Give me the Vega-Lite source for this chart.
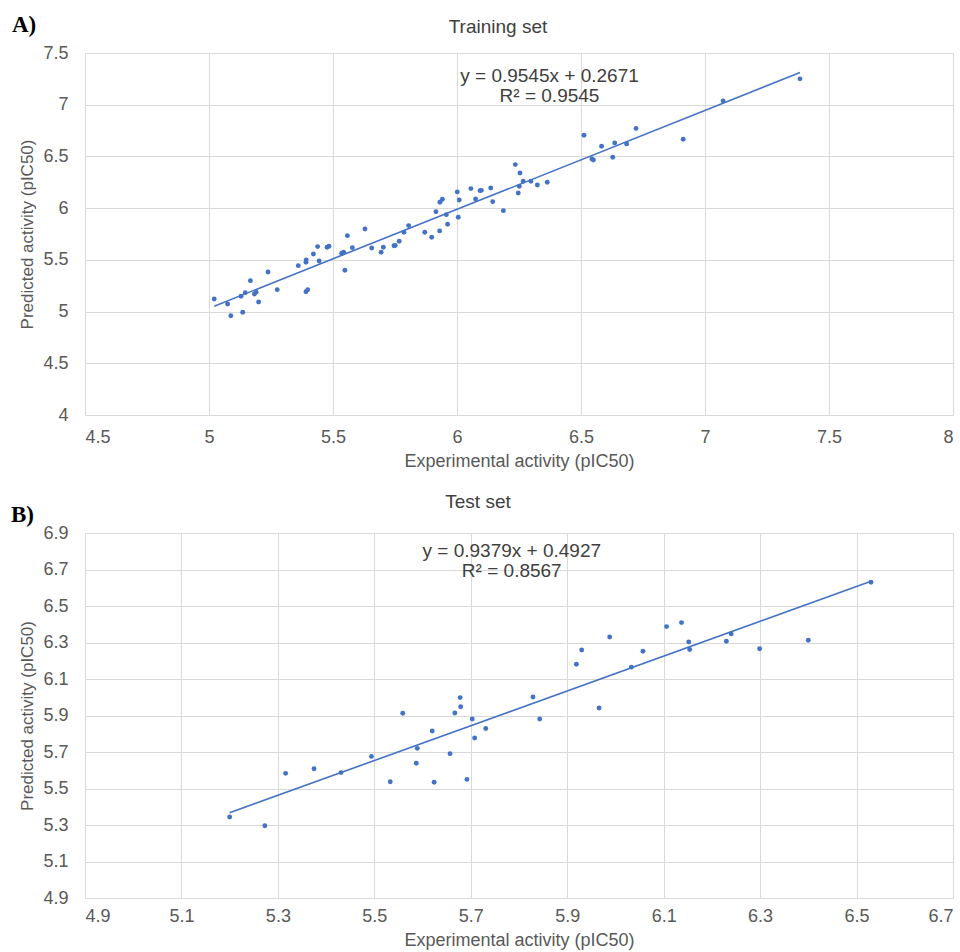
{
  "$schema": "https://vega.github.io/schema/vega-lite/v6.json",
  "background": "white",
  "padding": {"top": 14, "left": 11, "right": 4, "bottom": 1},
  "spacing": 23,
  "config": {
    "font": "Liberation Sans",
    "view": {"stroke": null},
    "axis": {
      "grid": true, "gridColor": "#d9d9d9", "gridWidth": 1,
      "domain": false, "ticks": false, "tickSize": 0,
      "labelFont": "Liberation Sans", "labelFontSize": 18, "labelColor": "#595959",
      "titleFont": "Liberation Sans", "titleFontSize": 18, "titleColor": "#595959", "titleFontWeight": "normal"
    },
    "title": {"font": "Liberation Sans", "fontSize": 19, "fontWeight": "normal", "color": "#404040"}
  },
  "datasets": {
    "train": [
      {"experimental": 5.021, "predicted": 5.122}, {"experimental": 5.075, "predicted": 5.073},
      {"experimental": 5.088, "predicted": 4.960}, {"experimental": 5.136, "predicted": 4.993},
      {"experimental": 5.129, "predicted": 5.148}, {"experimental": 5.146, "predicted": 5.183},
      {"experimental": 5.167, "predicted": 5.299}, {"experimental": 5.183, "predicted": 5.170},
      {"experimental": 5.190, "predicted": 5.187}, {"experimental": 5.200, "predicted": 5.093},
      {"experimental": 5.238, "predicted": 5.383}, {"experimental": 5.275, "predicted": 5.212},
      {"experimental": 5.360, "predicted": 5.444}, {"experimental": 5.391, "predicted": 5.477},
      {"experimental": 5.392, "predicted": 5.499}, {"experimental": 5.391, "predicted": 5.192},
      {"experimental": 5.398, "predicted": 5.212}, {"experimental": 5.421, "predicted": 5.557},
      {"experimental": 5.438, "predicted": 5.628}, {"experimental": 5.444, "predicted": 5.489},
      {"experimental": 5.476, "predicted": 5.622}, {"experimental": 5.484, "predicted": 5.632},
      {"experimental": 5.535, "predicted": 5.564}, {"experimental": 5.543, "predicted": 5.574},
      {"experimental": 5.548, "predicted": 5.399}, {"experimental": 5.558, "predicted": 5.734},
      {"experimental": 5.578, "predicted": 5.618}, {"experimental": 5.629, "predicted": 5.799},
      {"experimental": 5.656, "predicted": 5.615}, {"experimental": 5.694, "predicted": 5.574},
      {"experimental": 5.703, "predicted": 5.622}, {"experimental": 5.746, "predicted": 5.637},
      {"experimental": 5.751, "predicted": 5.640}, {"experimental": 5.767, "predicted": 5.680},
      {"experimental": 5.786, "predicted": 5.767}, {"experimental": 5.805, "predicted": 5.831},
      {"experimental": 5.870, "predicted": 5.767}, {"experimental": 5.898, "predicted": 5.719},
      {"experimental": 5.915, "predicted": 5.966}, {"experimental": 5.930, "predicted": 5.780},
      {"experimental": 5.931, "predicted": 6.057}, {"experimental": 5.941, "predicted": 6.086},
      {"experimental": 5.957, "predicted": 5.937}, {"experimental": 5.962, "predicted": 5.844},
      {"experimental": 6.001, "predicted": 6.157}, {"experimental": 6.009, "predicted": 6.079},
      {"experimental": 6.005, "predicted": 5.912}, {"experimental": 6.056, "predicted": 6.189},
      {"experimental": 6.075, "predicted": 6.089}, {"experimental": 6.093, "predicted": 6.169},
      {"experimental": 6.098, "predicted": 6.172}, {"experimental": 6.136, "predicted": 6.195},
      {"experimental": 6.144, "predicted": 6.063}, {"experimental": 6.187, "predicted": 5.976},
      {"experimental": 6.235, "predicted": 6.421}, {"experimental": 6.254, "predicted": 6.340},
      {"experimental": 6.267, "predicted": 6.260}, {"experimental": 6.251, "predicted": 6.212},
      {"experimental": 6.247, "predicted": 6.147}, {"experimental": 6.298, "predicted": 6.260},
      {"experimental": 6.324, "predicted": 6.224}, {"experimental": 6.364, "predicted": 6.250},
      {"experimental": 6.512, "predicted": 6.705}, {"experimental": 6.544, "predicted": 6.476},
      {"experimental": 6.550, "predicted": 6.466}, {"experimental": 6.583, "predicted": 6.599},
      {"experimental": 6.628, "predicted": 6.492}, {"experimental": 6.636, "predicted": 6.631},
      {"experimental": 6.684, "predicted": 6.621}, {"experimental": 6.722, "predicted": 6.771},
      {"experimental": 6.912, "predicted": 6.666}, {"experimental": 7.073, "predicted": 7.037},
      {"experimental": 7.383, "predicted": 7.250}
    ],
    "test": [
      {"experimental": 5.200, "predicted": 5.344}, {"experimental": 5.273, "predicted": 5.296},
      {"experimental": 5.316, "predicted": 5.583}, {"experimental": 5.375, "predicted": 5.608},
      {"experimental": 5.431, "predicted": 5.587}, {"experimental": 5.494, "predicted": 5.676},
      {"experimental": 5.533, "predicted": 5.537}, {"experimental": 5.559, "predicted": 5.912},
      {"experimental": 5.587, "predicted": 5.638}, {"experimental": 5.589, "predicted": 5.720},
      {"experimental": 5.620, "predicted": 5.815}, {"experimental": 5.624, "predicted": 5.534},
      {"experimental": 5.657, "predicted": 5.691}, {"experimental": 5.667, "predicted": 5.914},
      {"experimental": 5.678, "predicted": 5.998}, {"experimental": 5.679, "predicted": 5.948},
      {"experimental": 5.692, "predicted": 5.550}, {"experimental": 5.703, "predicted": 5.881},
      {"experimental": 5.708, "predicted": 5.777}, {"experimental": 5.731, "predicted": 5.829},
      {"experimental": 5.829, "predicted": 6.001}, {"experimental": 5.843, "predicted": 5.881},
      {"experimental": 5.919, "predicted": 6.181}, {"experimental": 5.930, "predicted": 6.259},
      {"experimental": 5.966, "predicted": 5.941}, {"experimental": 5.988, "predicted": 6.330},
      {"experimental": 6.033, "predicted": 6.165}, {"experimental": 6.057, "predicted": 6.252},
      {"experimental": 6.106, "predicted": 6.387}, {"experimental": 6.137, "predicted": 6.409},
      {"experimental": 6.152, "predicted": 6.303}, {"experimental": 6.154, "predicted": 6.262},
      {"experimental": 6.230, "predicted": 6.307}, {"experimental": 6.240, "predicted": 6.347},
      {"experimental": 6.299, "predicted": 6.266}, {"experimental": 6.400, "predicted": 6.312},
      {"experimental": 6.530, "predicted": 6.630}
    ]
  },
  "vconcat": [
    {
      "width": 868,
      "height": 362,
      "title": {"text": "Training set", "frame": "group", "anchor": "middle", "offset": -23, "dx": -21},
      "data": {"name": "train"},
      "encoding": {
        "x": {
          "field": "experimental", "type": "quantitative",
          "scale": {"domain": [4.5, 8], "nice": false, "zero": false},
          "axis": {"values": [4.5, 5, 5.5, 6, 6.5, 7, 7.5, 8], "format": "~g", "title": "Experimental activity (pIC50)", "labelPadding": 13, "titlePadding": 6}
        },
        "y": {
          "field": "predicted", "type": "quantitative",
          "scale": {"domain": [4, 7.5], "nice": false, "zero": false},
          "axis": {"values": [4, 4.5, 5, 5.5, 6, 6.5, 7, 7.5], "format": "~g", "title": "Predicted activity (pIC50)", "titleFontSize": 17, "labelPadding": 17, "titlePadding": 6}
        }
      },
      "layer": [
        {"mark": {"type": "point", "filled": true, "size": 24, "color": "#4472C4", "opacity": 1}},
        {
          "transform": [{"regression": "predicted", "on": "experimental"}],
          "mark": {"type": "line", "color": "#4472C4", "strokeWidth": 1.6}
        },
        {
          "data": {"values": [
            {"experimental": 6.373, "predicted": 7.278, "t": "y = 0.9545x + 0.2671"},
            {"experimental": 6.373, "predicted": 7.085, "t": "R² = 0.9545"}
          ]},
          "mark": {"type": "text", "fontSize": 19, "color": "#404040", "align": "center", "baseline": "middle"},
          "encoding": {"text": {"field": "t"}}
        },
        {
          "data": {"values": [{"experimental": 4.5, "predicted": 7.5, "t": "A)"}]},
          "mark": {"type": "text", "align": "left", "baseline": "middle", "dx": -73, "dy": -28, "font": "Liberation Serif", "fontWeight": "bold", "fontSize": 23, "color": "#000000"},
          "encoding": {"text": {"field": "t"}}
        }
      ]
    },
    {
      "width": 868,
      "height": 365,
      "title": {"text": "Test set", "frame": "group", "anchor": "middle", "offset": -8, "dx": -41},
      "data": {"name": "test"},
      "encoding": {
        "x": {
          "field": "experimental", "type": "quantitative",
          "scale": {"domain": [4.9, 6.7], "nice": false, "zero": false},
          "axis": {"values": [4.9, 5.1, 5.3, 5.5, 5.7, 5.9, 6.1, 6.3, 6.5, 6.7], "format": ".1f", "title": "Experimental activity (pIC50)", "labelPadding": 9, "titlePadding": 6}
        },
        "y": {
          "field": "predicted", "type": "quantitative",
          "scale": {"domain": [4.9, 6.9], "nice": false, "zero": false},
          "axis": {"values": [4.9, 5.1, 5.3, 5.5, 5.7, 5.9, 6.1, 6.3, 6.5, 6.7, 6.9], "format": ".1f", "title": "Predicted activity (pIC50)", "titleFontSize": 17, "labelPadding": 17, "titlePadding": 6}
        }
      },
      "layer": [
        {"mark": {"type": "point", "filled": true, "size": 24, "color": "#4472C4", "opacity": 1}},
        {
          "transform": [{"regression": "predicted", "on": "experimental"}],
          "mark": {"type": "line", "color": "#4472C4", "strokeWidth": 1.6}
        },
        {
          "data": {"values": [
            {"experimental": 5.785, "predicted": 6.801, "t": "y = 0.9379x + 0.4927"},
            {"experimental": 5.785, "predicted": 6.692, "t": "R² = 0.8567"}
          ]},
          "mark": {"type": "text", "fontSize": 19, "color": "#404040", "align": "center", "baseline": "middle"},
          "encoding": {"text": {"field": "t"}}
        },
        {
          "data": {"values": [{"experimental": 4.9, "predicted": 6.9, "t": "B)"}]},
          "mark": {"type": "text", "align": "left", "baseline": "middle", "dx": -74, "dy": -18, "font": "Liberation Serif", "fontWeight": "bold", "fontSize": 23, "color": "#000000"},
          "encoding": {"text": {"field": "t"}}
        }
      ]
    }
  ]
}
